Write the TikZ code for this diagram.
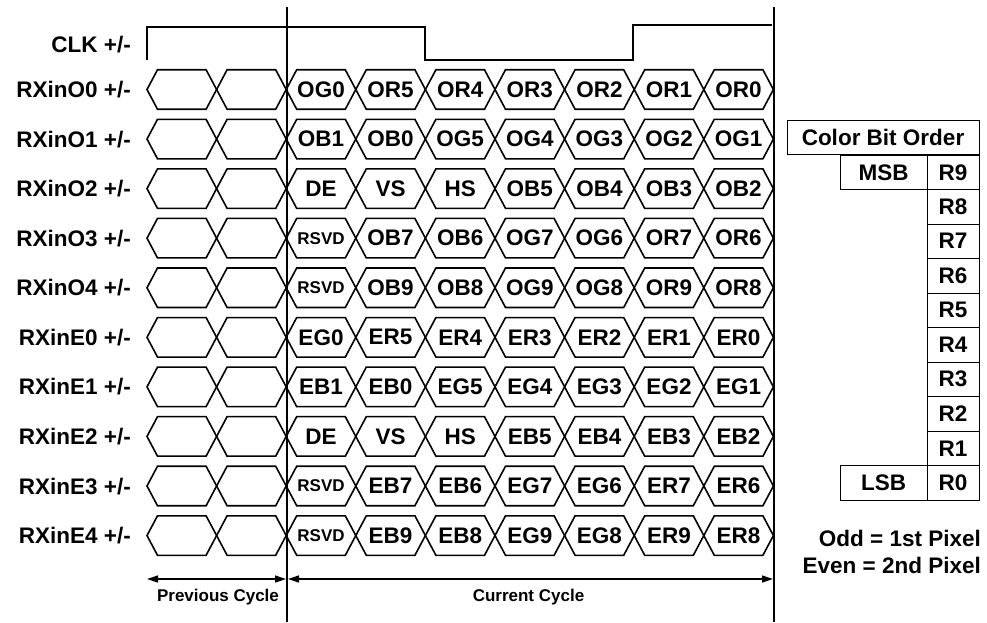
\documentclass[tikz,border=0pt]{standalone}
\usepackage{fontspec}
\setmainfont{Liberation Sans}
\usetikzlibrary{arrows.meta}

\newcommand{\rsvd}{{\fontsize{17}{20}\selectfont RSVD}}

\tikzset{
  sig/.style={line width=1.6pt},
  txt/.style={font=\bfseries\fontsize{22.5}{27}\selectfont, inner sep=0pt},
  lbl/.style={txt, anchor=base east},
  small/.style={font=\bfseries\fontsize{17}{20}\selectfont, inner sep=0pt},
  bitbox/.style={txt, draw, line width=0.8pt, minimum height=34.5pt},
  span/.style={line width=1.4pt, {Triangle[length=11pt,width=7pt]}-{Triangle[length=11pt,width=7pt]}},
  hexa/.pic={
    \draw[sig] (-34.8,0) -- (-24.3,-19.75) -- (24.3,-19.75) -- (34.8,0)
      -- (24.3,19.75) -- (-24.3,19.75) -- cycle;
  }
}

\begin{document}
\begin{tikzpicture}[x=1pt, y=-1pt]

\useasboundingbox (0,0) rectangle (987,622);

% cycle boundaries
\coordinate (top0) at (287,7);
\coordinate (bot0) at (287,622);
\coordinate (top1) at (774,7);
\coordinate (bot1) at (774,622);
\draw[sig] (top0) -- (bot0);
\draw[sig] (top1) -- (bot1);

% clock
\node[lbl] (clk) at (131,52) {CLK +/-};
\draw[sig] (147,60) |- (425,27) |- (633,60) |- (772,25);

% data lanes
\foreach \signame/\cells [count=\r from 0] in {
    RXinO0/{OG0,OR5,OR4,OR3,OR2,OR1,OR0},
    RXinO1/{OB1,OB0,OG5,OG4,OG3,OG2,OG1},
    RXinO2/{DE,VS,HS,OB5,OB4,OB3,OB2},
    RXinO3/{\rsvd,OB7,OB6,OG7,OG6,OR7,OR6},
    RXinO4/{\rsvd,OB9,OB8,OG9,OG8,OR9,OR8},
    RXinE0/{EG0,ER5,ER4,ER3,ER2,ER1,ER0},
    RXinE1/{EB1,EB0,EG5,EG4,EG3,EG2,EG1},
    RXinE2/{DE,VS,HS,EB5,EB4,EB3,EB2},
    RXinE3/{\rsvd,EB7,EB6,EG7,EG6,ER7,ER6},
    RXinE4/{\rsvd,EB9,EB8,EG9,EG8,ER9,ER8}} {
  \pgfmathsetmacro\ypos{89.5+49.56*\r}
  \node[lbl] (lane\r) at (131,\ypos+8.1) {\signame\ +/-};
  \foreach \k in {0,1} {
    \pic at ({181.8+69.6*\k},\ypos) {hexa};
  }
  \foreach \lab [count=\k from 2] in \cells {
    \pic at ({181.8+69.6*\k},\ypos) {hexa};
    \node[txt] (cell\r-\k) at ({181.8+69.6*\k},\ypos) {\lab};
  }
}

% cycle spans
\coordinate (prevL) at (147,579);
\coordinate (prevR) at (286,579);
\coordinate (curL) at (288,579);
\coordinate (curR) at (773,579);
\draw[span] (prevL) -- (prevR);
\draw[span] (curL) -- (curR);
\node[small] (prev) at (218,597) {Previous Cycle};
\node[small] (cur) at (528.5,597) {Current Cycle};

% color bit order table
\node[bitbox, minimum width=192pt] (order) at (883,137.5) {Color Bit Order};
\foreach \b [count=\i from 0] in {9,...,0} {
  \node[bitbox, minimum width=52pt] (r\b) at (953,172.25+34.5*\i) {R\b};
}
\node[bitbox, minimum width=87pt] (msb) at (883.5,172.25) {MSB};
\node[bitbox, minimum width=87pt] (lsb) at (883.5,482.75) {LSB};

\node[lbl] (odd) at (981,546) {Odd = 1st Pixel};
\node[lbl] (even) at (981,573) {Even = 2nd Pixel};

\end{tikzpicture}
\end{document}
